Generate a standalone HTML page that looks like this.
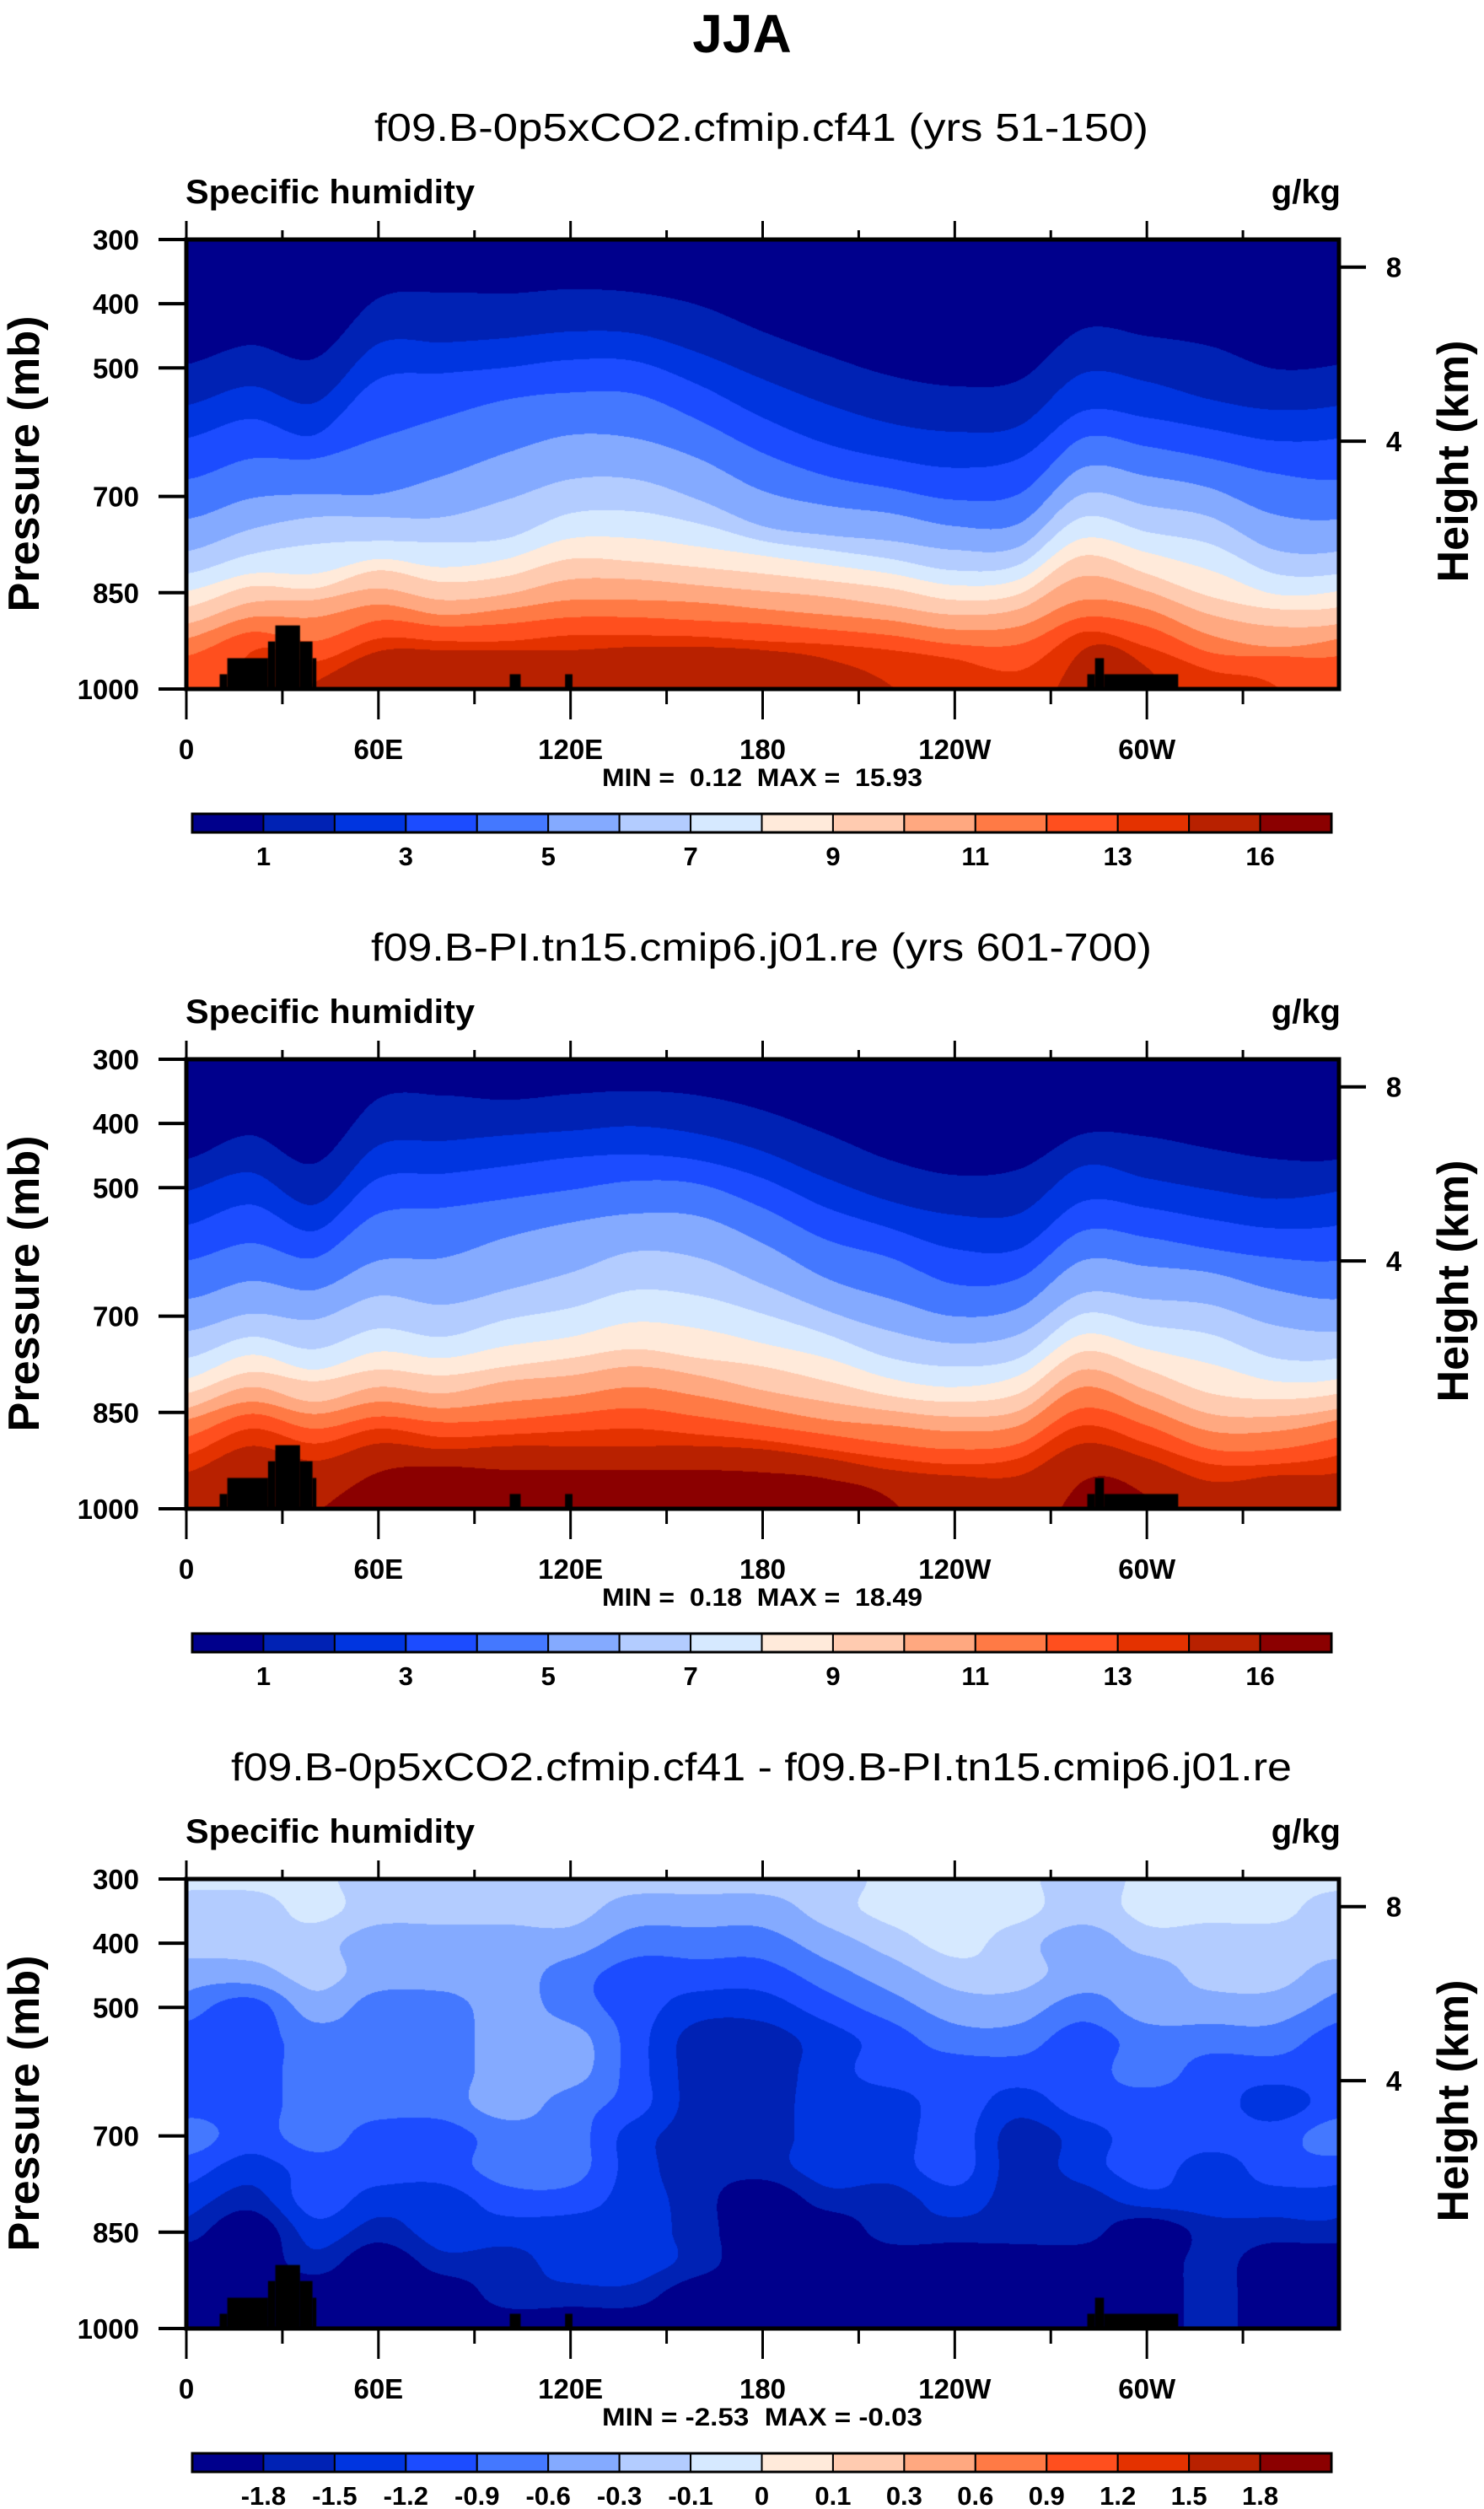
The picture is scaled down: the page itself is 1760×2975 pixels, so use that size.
<!DOCTYPE html>
<html><head><meta charset="utf-8">
<style>
html,body{margin:0;padding:0;background:#fff;}
#wrap{position:relative;width:1760px;height:2975px;overflow:hidden;background:#fff;}
canvas{position:absolute;}
svg{position:absolute;left:0;top:0;}
text{font-family:"Liberation Sans",Arial,sans-serif;fill:#000;white-space:pre;}
</style></head>
<body>
<div id="wrap">
<canvas id="c0" width="1367" height="533" style="left:221px;top:284px"></canvas>
<canvas id="c1" width="1367" height="533" style="left:221px;top:1256px"></canvas>
<canvas id="c2" width="1367" height="533" style="left:221px;top:2228px"></canvas>
<svg id="ov" width="1760" height="2975" xmlns="http://www.w3.org/2000/svg">
<text x="880" y="62" font-size="64" font-weight="bold" text-anchor="middle">JJA</text>
</svg>
</div>
<script>
// ---- data ----
const lonCols = [0,20,40,60,80,100,120,140,160,180,200,220,240,260,280,300,320,340,360];
const presRows = [300,350,400,450,500,550,600,650,700,750,800,850,900,950,1000];
const palette = ["#00008c","#0022b4","#0035e0","#1c4cff","#4478ff","#84aaff","#b3ccff","#d6e9ff","#ffeada","#ffcbb0","#ffa880","#ff7a45","#ff4f1e","#e43200","#b82100","#8b0000"];
const qLabels = ["1","","3","","5","","7","","9","","11","","13","","16"];
const dLabels = ["-1.8","-1.5","-1.2","-0.9","-0.6","-0.3","-0.1","0","0.1","0.3","0.6","0.9","1.2","1.5","1.8"];
const dLevels = [-1.8,-1.5,-1.2,-0.9,-0.6,-0.3,-0.1,0,0.1,0.3,0.6,0.9,1.2,1.5,1.8];
const panelTitles = ["f09.B-0p5xCO2.cfmip.cf41 (yrs 51-150)","f09.B-PI.tn15.cmip6.j01.re (yrs 601-700)","f09.B-0p5xCO2.cfmip.cf41 - f09.B-PI.tn15.cmip6.j01.re"];
const minMax = ["MIN =  0.12  MAX =  15.93","MIN =  0.18  MAX =  18.49","MIN = -2.53  MAX = -0.03"];
const presTicks = [300,400,500,700,850,1000];
const heightTicks = ["8","4"];
const heightTickPres = [343,614];
const lonTicks = [0,60,120,180,240,300];
const lonTickLabels = ["0","60E","120E","180","120W","60W"];
// land mask (lon start, lon end, surface pressure mb)
const landStart = [10.4,12.8,25.5,27.8,35.5,39.4,101,118.3,281.4,283.8,286.6];
const landEnd   = [12.8,25.5,27.8,35.5,39.4,40.6,104.4,120.6,283.8,286.6,309.8];
const landPs    = [977,952,926,901,926,952,977,977,977,952,977];
// panel 1: pressure (mb) of each contour level (1..14,16 g/kg) at each lonCol
const p1Contours = [
[495,559,610,674,736,786,821,848,873,899,922,949,1100,1100,1100],
[465,529,580,642,704,752,791,821,841,866,889,912,944,1040,1100],
[486,555,605,642,697,733,775,821,844,862,889,926,958,990,1100],
[392,463,518,610,697,733,770,798,816,844,869,894,922,942,1100],
[383,461,509,578,669,733,772,811,834,862,885,903,926,940,1100],
[385,454,500,550,633,706,766,798,825,853,876,899,926,940,1100],
[378,444,488,539,605,674,727,766,798,830,862,889,917,940,1100],
[383,447,490,541,610,674,724,766,802,830,862,889,917,935,1100],
[403,477,527,582,642,706,743,779,811,839,866,894,919,935,1100],
[444,518,578,633,692,747,770,793,821,848,876,899,926,940,1100],
[481,557,619,669,715,761,784,807,832,857,885,908,931,954,1100],
[513,587,642,688,727,770,798,821,844,871,894,917,940,995,1100],
[529,600,656,706,747,784,816,839,862,885,908,931,954,1100,1100],
[520,591,642,697,743,779,807,830,853,876,903,931,972,1100,1100],
[440,509,568,610,656,697,733,766,793,825,862,889,912,940,1100],
[451,522,578,623,669,715,756,788,821,848,876,903,935,967,1100],
[467,550,596,642,688,733,775,816,857,885,917,944,972,1100,1100],
[502,566,614,665,729,784,821,853,876,903,935,949,995,1100,1100],
[495,559,610,674,736,786,821,848,873,899,922,949,1100,1100,1100]];
// panel 2
const p2Contours = [
[456,506,559,614,674,724,766,798,821,844,862,889,917,944,1100],
[419,477,527,587,646,697,733,761,788,811,834,853,876,903,1100],
[463,527,568,610,660,706,752,784,802,834,853,876,899,926,1010],
[362,435,486,541,614,669,720,756,784,811,834,857,876,899,944],
[357,428,479,532,610,683,733,766,793,821,844,866,889,908,935],
[364,419,467,518,578,660,706,747,779,802,834,862,885,903,940],
[355,412,454,504,555,633,688,733,766,793,825,853,880,903,940],
[350,405,449,490,541,600,660,710,752,779,811,844,876,903,940],
[357,417,458,495,545,610,669,720,766,793,825,857,885,903,940],
[380,444,486,532,587,651,697,743,779,816,844,871,894,908,944],
[417,486,532,582,642,692,729,766,802,834,862,885,908,922,954],
[458,522,564,610,674,724,766,798,825,848,871,899,922,940,986],
[481,543,596,651,701,743,779,811,834,857,880,908,931,949,1100],
[472,541,596,642,688,729,766,793,821,848,871,899,922,949,1100],
[417,467,522,568,614,665,697,729,756,784,811,844,871,899,958],
[421,486,532,578,623,674,715,752,784,816,844,871,899,922,981],
[440,504,550,596,633,683,729,775,821,853,880,908,931,958,1100],
[456,518,564,610,660,715,766,802,830,857,880,908,931,949,1100],
[456,506,559,614,674,724,766,798,821,844,862,889,917,944,1100]];
// panel 3: difference values (g/kg), rows = presRows, cols = lonCols
const p3Row300 = [-0.05,-0.05,-0.05,-0.2,-0.2,-0.2,-0.2,-0.2,-0.2,-0.2,-0.2,-0.05,-0.05,-0.05,-0.2,-0.05,-0.05,-0.05,-0.05];
const p3Row350 = [-0.2,-0.2,-0.05,-0.2,-0.2,-0.2,-0.2,-0.45,-0.45,-0.45,-0.2,-0.05,-0.05,-0.05,-0.2,-0.05,-0.05,-0.05,-0.2];
const p3Row400 = [-0.2,-0.2,-0.2,-0.45,-0.45,-0.45,-0.45,-0.75,-0.75,-0.75,-0.45,-0.2,-0.05,-0.2,-0.45,-0.2,-0.2,-0.2,-0.2];
const p3Row450 = [-0.45,-0.45,-0.2,-0.45,-0.45,-0.45,-0.75,-1.05,-1.05,-1.05,-0.75,-0.45,-0.2,-0.2,-0.45,-0.45,-0.2,-0.2,-0.45];
const p3Row500 = [-0.75,-1.05,-0.45,-0.75,-0.75,-0.45,-0.75,-1.05,-1.35,-1.35,-1.05,-0.75,-0.45,-0.45,-0.75,-0.45,-0.45,-0.45,-0.75];
const p3Row550 = [-1.05,-1.05,-0.75,-0.75,-0.75,-0.45,-0.45,-1.05,-1.65,-1.65,-1.35,-1.05,-0.75,-0.75,-1.05,-0.75,-0.75,-0.75,-1.05];
const p3Row600 = [-1.05,-1.05,-0.75,-0.75,-0.75,-0.45,-0.45,-1.05,-1.65,-1.65,-1.35,-1.05,-1.05,-1.05,-1.05,-0.75,-1.05,-1.05,-1.05];
const p3Row650 = [-1.05,-1.05,-0.75,-0.75,-0.75,-0.45,-0.75,-1.05,-1.65,-1.65,-1.35,-1.35,-1.05,-1.35,-1.05,-1.05,-1.05,-1.35,-1.05];
const p3Row700 = [-0.75,-1.05,-0.75,-1.05,-1.05,-0.75,-0.75,-1.35,-1.65,-1.65,-1.35,-1.35,-1.05,-1.65,-1.35,-1.05,-1.05,-1.05,-0.75];
const p3Row750 = [-1.05,-1.35,-1.05,-1.05,-1.05,-0.75,-0.75,-1.35,-1.65,-1.65,-1.35,-1.35,-1.05,-1.65,-1.35,-1.05,-1.35,-1.05,-1.05];
const p3Row800 = [-1.35,-1.65,-1.05,-1.35,-1.35,-1.05,-1.05,-1.35,-1.65,-2.1,-1.65,-1.65,-1.35,-1.65,-1.65,-1.35,-1.35,-1.35,-1.35];
const p3Row850 = [-1.65,-2.1,-1.35,-1.65,-1.35,-1.35,-1.35,-1.35,-1.65,-2.1,-2.1,-1.65,-1.65,-1.65,-1.65,-2.1,-1.65,-1.65,-1.65];
const p3Row900 = [-2.1,-2.1,-1.65,-2.1,-1.65,-1.65,-1.35,-1.35,-1.65,-2.1,-2.1,-2.1,-2.1,-2.1,-2.1,-2.1,-1.65,-2.1,-2.1];
const p3Row950 = [-2.1,-2.1,-2.1,-2.1,-2.1,-1.65,-1.65,-1.65,-2.1,-2.1,-2.1,-2.1,-2.1,-2.1,-2.1,-2.1,-1.65,-2.1,-2.1];
const p3Row1000 = [-2.1,-2.1,-2.1,-2.1,-2.1,-2.1,-2.1,-2.1,-2.1,-2.1,-2.1,-2.1,-2.1,-2.1,-2.1,-2.1,-1.65,-2.1,-2.1];
const p3Grid = [p3Row300,p3Row350,p3Row400,p3Row450,p3Row500,p3Row550,p3Row600,p3Row650,p3Row700,p3Row750,p3Row800,p3Row850,p3Row900,p3Row950,p3Row1000];

// ---- layout ----
const PX0=221, PX1=1588, PH=533, PW=1367;
const panelTop=[284,1256,2228];
const P0=300, P1=1000;
function xOfLon(l){return l/360*PW;}
function yOfP(p){return (p-P0)/(P1-P0)*PH;}
function pOfY(y){return P0+y/PH*(P1-P0);}
function lonOfX(x){return x/PW*360;}
function hexRgb(h){return [parseInt(h.substr(1,2),16),parseInt(h.substr(3,2),16),parseInt(h.substr(5,2),16)];}
const NC=lonCols.length-1; // periodic: last == first
function cr(a,b,c,d,t){return 0.5*((2*b)+(-a+c)*t+(2*a-5*b+4*c-d)*t*t+(-a+3*b-3*c+d)*t*t*t);}
function idx(i){return ((i%NC)+NC)%NC;}

function drawContourPanel(cv, contours){
  const ctx=cv.getContext('2d');
  const nb=contours[0].length;
  for(let x=0;x<PW;x++){
    const lon=lonOfX(x+0.5);
    let i=Math.min(Math.floor(lon/20),NC-1);
    const t=(lon-lonCols[i])/20;
    let prevY=0;
    for(let k=0;k<=nb;k++){
      let yb;
      if(k<nb){
        const p=cr(contours[idx(i-1)][k],contours[i][k],contours[i+1][k],contours[idx(i+2)][k],t);
        yb=Math.max(prevY,Math.min(PH,yOfP(p)));
      } else yb=PH;
      if(yb>prevY){ctx.fillStyle=palette[k];ctx.fillRect(x,Math.floor(prevY),1,Math.ceil(yb)-Math.floor(prevY));}
      prevY=yb;
    }
  }
  drawLand(ctx);
}
function drawGridPanel(cv, grid, levels){
  const ctx=cv.getContext('2d');
  const img=ctx.createImageData(PW,PH);
  const cols=palette.map(hexRgb);
  const nr=presRows.length;
  function row(j,i,t){j=Math.max(0,Math.min(nr-1,j));const g=grid[j];return cr(g[idx(i-1)],g[i],g[i+1],g[idx(i+2)],t);}
  for(let y=0;y<PH;y++){
    const p=pOfY(y+0.5);
    let j=Math.min(Math.floor((p-P0)/50),nr-2);
    const u=(p-presRows[j])/50;
    for(let x=0;x<PW;x++){
      const lon=lonOfX(x+0.5);
      let i=Math.min(Math.floor(lon/20),NC-1);
      const t=(lon-lonCols[i])/20;
      const v=cr(row(j-1,i,t),row(j,i,t),row(j+1,i,t),row(j+2,i,t),u);
      let b=0;while(b<levels.length&&v>=levels[b])b++;
      const c=cols[b];const o=(y*PW+x)*4;
      img.data[o]=c[0];img.data[o+1]=c[1];img.data[o+2]=c[2];img.data[o+3]=255;
    }
  }
  ctx.putImageData(img,0,0);
  drawLand(ctx);
}
function drawLand(ctx){
  ctx.fillStyle='#000';
  for(let k=0;k<landStart.length;k++){
    const x0=xOfLon(landStart[k]),x1=xOfLon(landEnd[k]),y0=yOfP(landPs[k]);
    ctx.fillRect(x0,y0,x1-x0,PH-y0);
  }
}
drawContourPanel(document.getElementById('c0'),p1Contours);
drawContourPanel(document.getElementById('c1'),p2Contours);
drawGridPanel(document.getElementById('c2'),p3Grid,dLevels);

// ---- overlay ----
const NS='http://www.w3.org/2000/svg';
const ov=document.getElementById('ov');
function mk(tag,attrs,txt){const e=document.createElementNS(NS,tag);for(const k in attrs)e.setAttribute(k,attrs[k]);if(txt!==undefined)e.textContent=txt;ov.appendChild(e);return e;}

for(let n=0;n<3;n++){
  const T=panelTop[n], B=T+PH, off=n*972;
  let e;
  e=mk('text',{x:903,y:167+off,'font-size':46,'text-anchor':'middle',textLength:[918,926,1258][n],lengthAdjust:'spacingAndGlyphs'},panelTitles[n]);
  
  
  e=mk('text',{x:220,y:241+off,'font-size':40,'font-weight':'bold',textLength:343,lengthAdjust:'spacingAndGlyphs'},'Specific humidity');
  
  
  e=mk('text',{x:1590,y:241+off,'font-size':40,'font-weight':'bold','text-anchor':'end'},'g/kg');
  
  
  e=mk('rect',{x:PX0,y:T,width:PW,height:PH,fill:'none',stroke:'#000','stroke-width':5});
  
  
  for(let k=0;k<presTicks.length;k++){
    const y=T+yOfP(presTicks[k]);
    e=mk('line',{x1:188,x2:PX0,y1:y,y2:y,stroke:'#000','stroke-width':4});
    
    
    e=mk('text',{x:165,y:y+12,'font-size':33,'font-weight':'bold','text-anchor':'end'},String(presTicks[k]));
    
    
  }
  for(let k=0;k<heightTicks.length;k++){
    const y=T+yOfP(heightTickPres[k]);
    e=mk('line',{x1:PX1,x2:1620,y1:y,y2:y,stroke:'#000','stroke-width':4});
    
    
    e=mk('text',{x:1653,y:y+12,'font-size':33,'font-weight':'bold','text-anchor':'middle'},heightTicks[k]);
    
    
  }
  for(let l=0;l<=330;l+=30){
    const x=PX0+xOfLon(l), major=(l%60===0);
    e=mk('line',{x1:x,x2:x,y1:B,y2:B+(major?36:18),stroke:'#000','stroke-width':3});
    
    
    e=mk('line',{x1:x,x2:x,y1:T,y2:T-(major?22:11),stroke:'#000','stroke-width':3});
    
    
  }
  for(let k=0;k<lonTicks.length;k++){
    e=mk('text',{x:PX0+xOfLon(lonTicks[k]),y:900+off,'font-size':33,'font-weight':'bold','text-anchor':'middle'},lonTickLabels[k]);
    
    
  }
  e=mk('text',{x:904,y:932+off,'font-size':30,'font-weight':'bold','text-anchor':'middle',textLength:380,lengthAdjust:'spacingAndGlyphs'},minMax[n]);
  
  
  e=mk('text',{x:0,y:0,'font-size':52,'font-weight':'bold','text-anchor':'middle',textLength:351,lengthAdjust:'spacingAndGlyphs',transform:'translate(46,'+(550+off)+') rotate(-90)'},'Pressure (mb)');
  
  
  e=mk('text',{x:0,y:0,'font-size':52,'font-weight':'bold','text-anchor':'middle',textLength:287,lengthAdjust:'spacingAndGlyphs',transform:'translate(1741,'+(547+off)+') rotate(-90)'},'Height (km)');
  
  
  const cbX0=228,cbX1=1579,cbT=965+off,cbH=22,bw=(cbX1-cbX0)/16;
  for(let k=0;k<16;k++){
    e=mk('rect',{x:cbX0+k*bw,y:cbT,width:bw,height:cbH,fill:palette[k],stroke:'#000','stroke-width':2});
    
    
  }
  e=mk('rect',{x:cbX0,y:cbT,width:cbX1-cbX0,height:cbH,fill:'none',stroke:'#000','stroke-width':3});
  
  
  const labs=(n<2)?qLabels:dLabels;
  for(let k=0;k<15;k++){
    if(!labs[k])continue;
    e=mk('text',{x:cbX0+(k+1)*bw,y:1026+off,'font-size':31,'font-weight':'bold','text-anchor':'middle'},labs[k]);
    
    
  }
}
</script>
</body></html>
